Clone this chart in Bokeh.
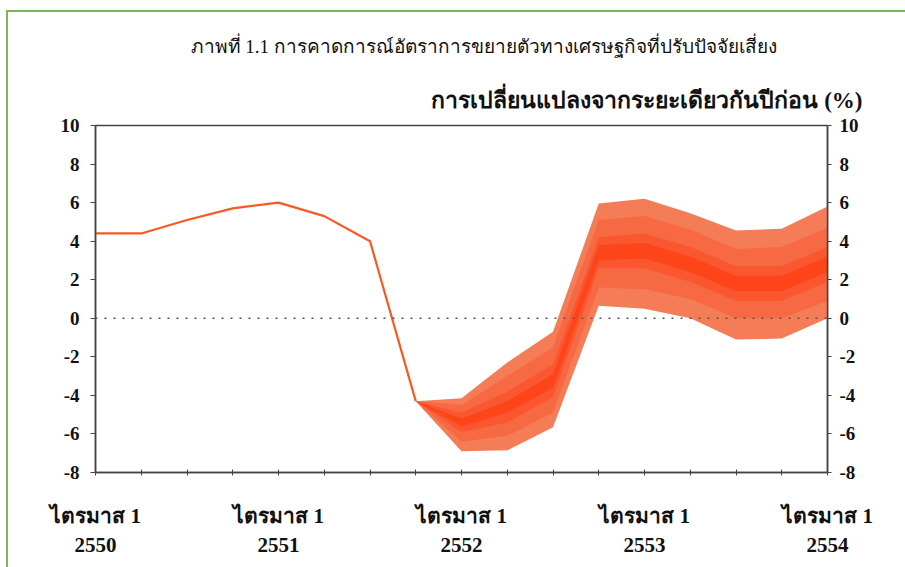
from bokeh.plotting import figure
from bokeh.models import (LinearAxis, FixedTicker, Range1d, Span, Title)
from bokeh.embed import file_html
from bokeh.resources import INLINE

# ---- data ----
quarters = list(range(17))  # ไตรมาส 1/2550 ... ไตรมาส 1/2554
tick_labels = {0: "2550", 4: "2551", 8: "2552", 12: "2553", 16: "2554"}
quarter_label = "ไตรมาส 1"

actual_x = [0, 1, 2, 3, 4, 5, 6, 7]
actual_y = [4.4, 4.4, 5.1, 5.7, 6.0, 5.3, 4.0, -4.3]

fan_x = [7, 8, 9, 10, 11, 12, 13, 14, 15, 16]
upper_outer = [-4.3, -4.15, -2.3, -0.7, 5.95, 6.2, 5.45, 4.55, 4.65, 5.8]
upper_mid = [-4.3, -4.5, -3.0, -1.5, 5.1, 5.3, 4.6, 3.6, 3.7, 4.7]
upper_inner = [-4.3, -4.9, -3.8, -2.4, 4.2, 4.4, 3.7, 2.7, 2.7, 3.7]
upper_core = [-4.3, -5.2, -4.3, -2.9, 3.8, 3.9, 3.2, 2.2, 2.2, 3.2]
lower_core = [-4.3, -5.6, -4.9, -3.6, 3.0, 3.1, 2.4, 1.4, 1.4, 2.4]
lower_inner = [-4.3, -5.9, -5.4, -4.1, 2.6, 2.6, 1.9, 0.9, 0.9, 1.9]
lower_mid = [-4.3, -6.4, -6.1, -4.9, 1.6, 1.5, 1.0, 0.0, 0.0, 0.9]
lower_outer = [-4.3, -6.9, -6.85, -5.65, 0.65, 0.5, 0.0, -1.1, -1.05, 0.0]

y_ticks = [-8, -6, -4, -2, 0, 2, 4, 6, 8, 10]

title_text = "ภาพที่ 1.1  การคาดการณ์อัตราการขยายตัวทางเศรษฐกิจที่ปรับปัจจัยเสี่ยง"
unit_text = "การเปลี่ยนแปลงจากระยะเดียวกันปีก่อน (%)"

# ---- figure ----
p = figure(frame_width=732, frame_height=347,
           x_range=Range1d(0, 16), y_range=Range1d(-8, 10),
           output_backend="svg", toolbar_location=None,
           min_border_left=95, min_border_right=78,
           min_border_top=125, min_border_bottom=95,
           background_fill_color="white", border_fill_color=None)
p.styles = {
    "background-color": "white",
    "background-image": "linear-gradient(#7DB55A,#7DB55A), linear-gradient(#7DB55A,#7DB55A)",
    "background-size": "2px 600px, 950px 2px",
    "background-position": "6px 10px, 6px 10px",
    "background-repeat": "no-repeat",
}
p.xgrid.visible = False
p.ygrid.visible = False
p.outline_line_color = "#444444"
p.outline_line_width = 1.5

# fan bands
p.varea(x=fan_x, y1=lower_outer, y2=upper_outer, fill_color="#F47C57")
p.varea(x=fan_x, y1=lower_mid, y2=upper_mid, fill_color="#F76943")
p.varea(x=fan_x, y1=lower_inner, y2=upper_inner, fill_color="#FA5630")
p.varea(x=fan_x, y1=lower_core, y2=upper_core, fill_color="#FE4519")

# actual line
p.line(actual_x, actual_y, line_color="#F85A22", line_width=2.2)

# zero line
p.add_layout(Span(location=0, dimension="width", line_color="#555555",
                  line_dash="2 7", line_width=1.5))

tick_font = "Liberation Serif"
y_over = {t: str(t) for t in y_ticks}

# left axis
ax = p.yaxis[0]
ax.ticker = FixedTicker(ticks=y_ticks)
ax.major_label_overrides = y_over
ax.major_label_text_font = tick_font
ax.major_label_text_font_style = "bold"
ax.major_label_text_font_size = "19px"
ax.major_label_text_color = "#111111"
ax.major_tick_out = 5
ax.major_tick_in = 0
ax.minor_tick_line_color = None
ax.axis_line_color = "#444444"
ax.axis_line_width = 1.5
ax.major_tick_line_color = "#444444"
ax.major_label_standoff = 11

# right axis
ra = LinearAxis(ticker=FixedTicker(ticks=y_ticks))
ra.major_label_overrides = y_over
ra.major_label_text_font = tick_font
ra.major_label_text_font_style = "bold"
ra.major_label_text_font_size = "19px"
ra.major_label_text_color = "#111111"
ra.major_tick_out = 4
ra.major_tick_in = 0
ra.minor_tick_line_color = None
ra.axis_line_color = "#444444"
ra.axis_line_width = 1.5
ra.major_tick_line_color = "#444444"
ra.major_label_standoff = 8
p.add_layout(ra, "right")

# bottom axis 1: quarter labels
bx = p.xaxis[0]
bx.ticker = FixedTicker(ticks=quarters)
bx.major_label_overrides = {q: (quarter_label if q in tick_labels else "") for q in quarters}
bx.major_label_text_font = tick_font
bx.major_label_text_font_style = "bold"
bx.major_label_text_font_size = "21px"
bx.major_label_text_color = "#111111"
bx.major_tick_out = 3
bx.major_tick_in = 3
bx.minor_tick_line_color = None
bx.axis_line_color = "#444444"
bx.axis_line_width = 1.5
bx.major_tick_line_color = "#444444"
bx.major_label_standoff = 28

# bottom axis 2: years
bx2 = LinearAxis(ticker=FixedTicker(ticks=quarters))
bx2.major_label_overrides = {q: tick_labels.get(q, "") for q in quarters}
bx2.major_label_text_font = tick_font
bx2.major_label_text_font_style = "bold"
bx2.major_label_text_font_size = "21px"
bx2.major_label_text_color = "#111111"
bx2.axis_line_color = None
bx2.major_tick_line_color = None
bx2.minor_tick_line_color = None
bx2.major_tick_out = 0
bx2.major_tick_in = 0
bx2.major_label_standoff = 7
p.add_layout(bx2, "below")

# titles (first added sits closest to the frame)
p.add_layout(Title(text=unit_text, align="right", offset=-35, standoff=26,
                   text_font=tick_font, text_font_style="bold",
                   text_font_size="23px", text_color="#111111"), "above")
p.add_layout(Title(text=title_text, align="left", offset=95, standoff=32,
                   text_font=tick_font, text_font_style="normal",
                   text_font_size="19px", text_color="#111111"), "above")

open("out.html", "w").write(file_html(p, INLINE))
